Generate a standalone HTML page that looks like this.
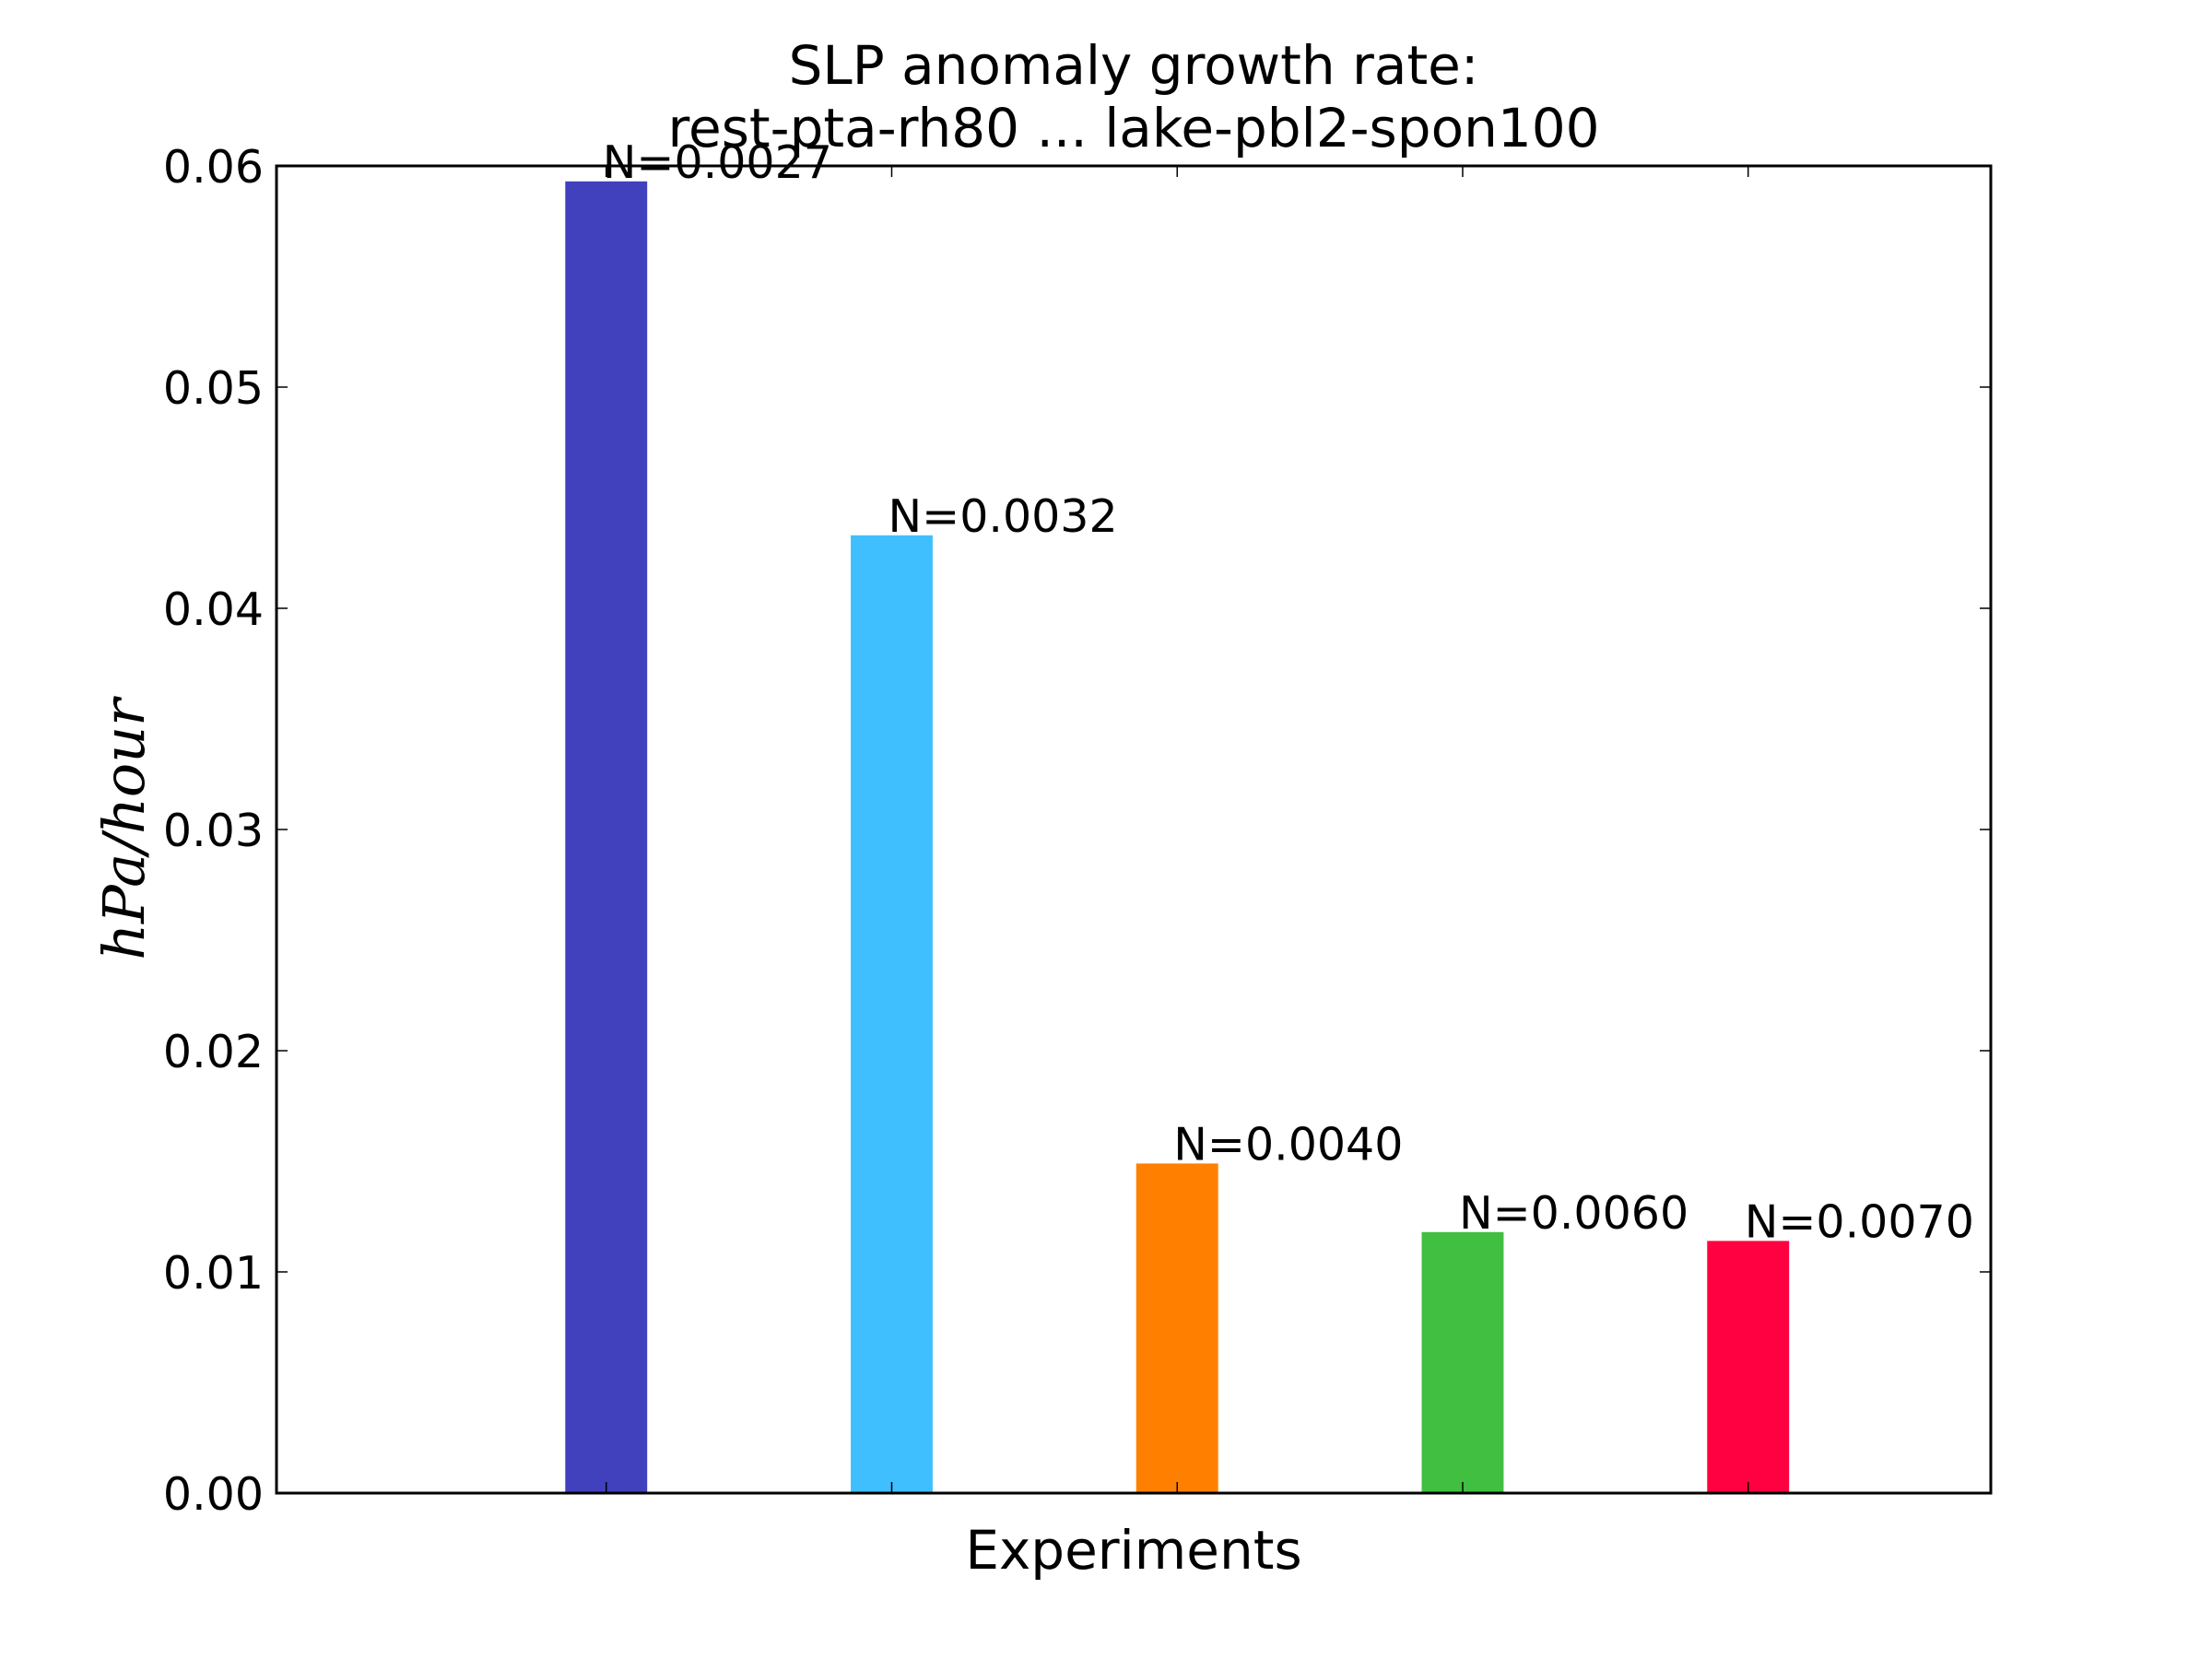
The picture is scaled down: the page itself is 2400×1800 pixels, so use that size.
<!DOCTYPE html>
<html><head><meta charset="utf-8"><style>
html,body{margin:0;padding:0;background:#fff;}
svg{display:block;}
text{font-family:"DejaVu Sans","Liberation Sans",sans-serif;fill:#000;}
</style></head><body>
<svg id="chart" width="2400" height="1800" viewBox="0 0 2400 1800" xmlns="http://www.w3.org/2000/svg">
<rect x="0" y="0" width="2400" height="1800" fill="#fff"/>
<text x="1230" y="91" font-size="58" text-anchor="middle">SLP anomaly growth rate:</text>
<text x="1230" y="159" font-size="58" text-anchor="middle">rest-pta-rh80 ... lake-pbl2-spon100</text>
<g id="bars"></g>
<g id="yticks"></g>
<g id="xticks"></g>
<rect x="300" y="180" width="1860" height="1440" fill="none" stroke="#000" stroke-width="3"/>
<text x="1230" y="1702" font-size="58" text-anchor="middle">Experiments</text>
<text transform="translate(156,900) rotate(-90)" font-size="62" text-anchor="middle" font-style="italic" style="font-family:'DejaVu Serif','Liberation Serif',serif">hPa/hour</text>
</svg>
<script>
const categories = [1, 2, 3, 4, 5];
const values = [0.0593, 0.0433, 0.0149, 0.0118, 0.0114];
const barLabels = ["N=0.0027", "N=0.0032", "N=0.0040", "N=0.0060", "N=0.0070"];
const colors = ["#4140bd", "#40bfff", "#ff8000", "#40bf40", "#ff0040"];
const yTicks = [0, 0.01, 0.02, 0.03, 0.04, 0.05, 0.06];
const yTickLabels = ["0.00", "0.01", "0.02", "0.03", "0.04", "0.05", "0.06"];

const L = 300, R = 2160, T = 180, B = 1620;
const xMin = -0.155, xMax = 5.85, yMin = 0, yMax = 0.06;
const NS = "http://www.w3.org/2000/svg";
function xs(v){ return L + (v - xMin) / (xMax - xMin) * (R - L); }
function ys(v){ return B - (v - yMin) / (yMax - yMin) * (B - T); }
function mk(tag, attrs, parent){
  const e = document.createElementNS(NS, tag);
  for (const k in attrs) e.setAttribute(k, attrs[k]);
  parent.appendChild(e); return e;
}
const barsG = document.getElementById('bars');
const bw = 0.287 * (xs(1) - xs(0));
categories.forEach((c, i) => {
  const cx = xs(c);
  const r = mk('rect', {x: cx - bw/2, y: ys(values[i]), width: bw, height: ys(0) - ys(values[i]), fill: colors[i]}, barsG);
  
  
  const t = mk('text', {x: cx - 4, y: ys(values[i]) - 4, 'font-size': 49}, barsG);
  t.textContent = barLabels[i];
  
  
});
const yg = document.getElementById('yticks');
yTicks.forEach((v, i) => {
  const y = ys(v);
  const l1 = mk('line', {x1: L, x2: L + 12, y1: y, y2: y, stroke: '#000', 'stroke-width': 1.5}, yg);
  
  
  const l2 = mk('line', {x1: R - 12, x2: R, y1: y, y2: y, stroke: '#000', 'stroke-width': 1.5}, yg);
  
  
  const t = mk('text', {x: L - 14, y: y + 18, 'font-size': 49, 'text-anchor': 'end'}, yg);
  t.textContent = yTickLabels[i];
  
  
});
const xg = document.getElementById('xticks');
categories.forEach((c) => {
  const x = xs(c);
  const l1 = mk('line', {x1: x, x2: x, y1: B, y2: B - 12, stroke: '#000', 'stroke-width': 1.5}, xg);
  
  
  const l2 = mk('line', {x1: x, x2: x, y1: T, y2: T + 12, stroke: '#000', 'stroke-width': 1.5}, xg);
  
  
});
</script>
</body></html>
